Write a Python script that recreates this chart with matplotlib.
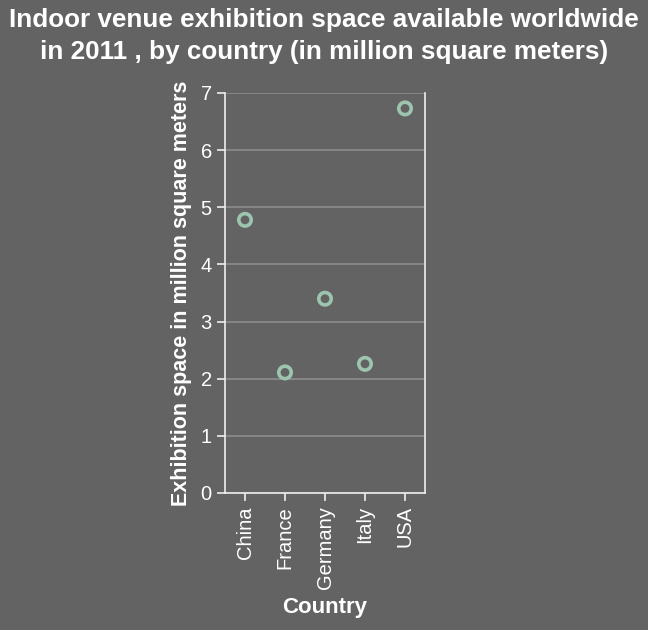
import matplotlib.pyplot as plt
import numpy as np

plt.switch_backend("agg")

countries = ["China", "France", "Germany", "Italy", "USA"]
space = [4.78, 2.11, 3.40, 2.26, 6.73]
yticks = [0, 1, 2, 3, 4, 5, 6, 7]

BG = "#636363"
FG = "#ffffff"
MARKER = "#9cc4ae"

plt.rcParams["font.family"] = ["Liberation Sans", "DejaVu Sans"]

fig = plt.figure(figsize=(6.48, 6.30), dpi=100, facecolor=BG)
ax = fig.add_axes([225 / 648, 1 - 493 / 630, 200 / 648, 400 / 630])
ax.set_facecolor(BG)

x = np.arange(len(countries))
ax.scatter(x, space, s=80, facecolors="none", edgecolors=MARKER, linewidths=2.6, zorder=3)

ax.set_xlim(-0.5, len(countries) - 0.5)
ax.set_ylim(0, 7)
ax.set_yticks(yticks)
ax.set_xticks(x)
ax.set_xticklabels(countries, rotation=90)
ax.yaxis.grid(True, color="#8c8c8c", linewidth=1.2)
ax.set_axisbelow(True)

for side in ["left", "bottom", "right"]:
    ax.spines[side].set_color("#eeeeee")
    ax.spines[side].set_linewidth(1.2)
ax.spines["top"].set_visible(False)
ax.tick_params(colors="#eeeeee", labelcolor=FG, labelsize=14.5, length=6, width=1.2)

ax.set_ylabel("Exhibition space in million square meters", color=FG, fontsize=15.5,
              fontweight="bold", labelpad=6)
ax.set_xlabel("Country", color=FG, fontsize=16, fontweight="bold", labelpad=6)

fig.text(0.5, 1 - 36 / 630, "Indoor venue exhibition space available worldwide\nin 2011 , by country (in million square meters)",
         ha="center", va="center", color=FG, fontsize=18.8, fontweight="bold", linespacing=1.38)

fig.savefig("out.png", dpi=100, facecolor=BG)
